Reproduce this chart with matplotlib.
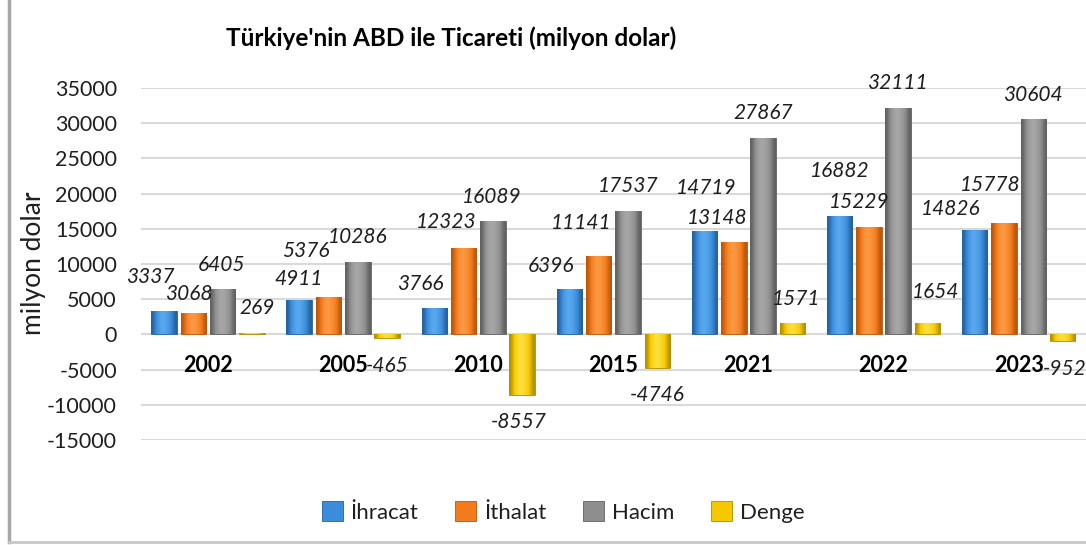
import numpy as np
import matplotlib.pyplot as plt
from matplotlib.lines import Line2D
from matplotlib.colors import LinearSegmentedColormap

years = ['2002', '2005', '2010', '2015', '2021', '2022', '2023']
ihracat = [3337, 4911, 3766, 6396, 14719, 16882, 14826]
ithalat = [3068, 5376, 12323, 11141, 13148, 15229, 15778]
hacim = [6405, 10286, 16089, 17537, 27867, 32111, 30604]
denge = [269, -465, -8557, -4746, 1571, 1654, -952]
series_names = ['İhracat', 'İthalat', 'Hacim', 'Denge']
yticks = list(range(-15000, 35001, 5000))

colors = ['#3b8ddb', '#f47b1d', '#8e8e8e', '#f6c800']
lights = ['#5aaaf0', '#fb9a45', '#a8a8a8', '#fde040']
edges = ['#25609c', '#b8560a', '#606060', '#b08e00']

# label offsets (pixels) from bar centre / bar end, hand-placed like the original
lab_dx = [[-14, -1, -14, -18, 2, 0, -24],
          [-5, -23, -17, -18, -17, -10, -14],
          [-1, 0, -1, 0, 0, -1, 0],
          [5, 0, -3, 0, 4, 8, 2]]
lab_dy = [[34, 21, 24, 23, 43, 45, 21],
          [19, 46, 26, 33, 24, 25, 38],
          [24, 25, 24, 25, 25, 25, 24],
          [25, -28, -27, -27, 24, 31, -28]]

plt.rcParams['font.family'] = ['Lato', 'DejaVu Sans']
txt = '#1f1f1f'
px = 0.72

fig = plt.figure(figsize=(10.86, 5.45), dpi=100)
ax = fig.add_axes([140.5 / 1086, 1 - 440 / 545, 945.7 / 1086, 352 / 545])

x = np.arange(len(years))
step = 0.2169
width = 0.189
data = [ihracat, ithalat, hacim, denge]
grad = np.array([[0.0, 0.45, 0.8, 1.0, 0.9, 0.7, 0.4, 0.0]])
for k, vals in enumerate(data):
    xs = x + (k - 1.5) * step
    cmap = LinearSegmentedColormap.from_list('b%d' % k, [edges[k], colors[k], lights[k]])
    bars = ax.bar(xs, vals, width, color=colors[k], edgecolor=edges[k], linewidth=0.6,
                  label=series_names[k], zorder=3)
    for b in bars:
        im = ax.imshow(grad, cmap=cmap, vmin=0, vmax=1, aspect='auto', interpolation='bicubic',
                       extent=[b.get_x(), b.get_x() + b.get_width(), b.get_y(), b.get_y() + b.get_height()],
                       zorder=3.5)
        im.set_clip_path(b)
    for i, v in enumerate(vals):
        ax.annotate(str(v), (xs[i], v),
                    xytext=(lab_dx[k][i] * px, lab_dy[k][i] * px),
                    textcoords='offset points', ha='center', va='center',
                    fontsize=15, style='italic', color=txt, zorder=5)

for i, yr in enumerate(years):
    ax.annotate(yr, (x[i], 0), xytext=(0, -31 * px), textcoords='offset points',
                ha='center', va='center', fontsize=15.5, fontweight='bold',
                color='black', zorder=4)

ax.set_xlim(-0.5, len(years) - 0.5)
ax.set_ylim(-15000, 35000)
ax.set_yticks(yticks)
ax.set_yticklabels([str(t) for t in yticks], fontsize=15.5, color=txt)
ax.tick_params(axis='y', length=0, pad=17)
ax.set_xticks([])
ax.grid(axis='y', color='#d9d9d9', linewidth=1.5, zorder=0)
for s in ax.spines.values():
    s.set_visible(False)

fig.text(33 / 1086, 1 - 263 / 545, 'milyon dolar', rotation=90, ha='center',
         va='center', fontsize=19, color=txt)
fig.text(451 / 1086, 1 - 38 / 545, "Türkiye'nin ABD ile Ticareti (milyon dolar)",
         ha='center', va='center', fontsize=17.5, fontweight='bold', color='black')

leg = fig.legend(loc='center', bbox_to_anchor=(563 / 1086, 1 - 512 / 545),
                 ncol=4, frameon=False, fontsize=16, handlelength=0.95,
                 handleheight=0.95, handletextpad=0.35, columnspacing=1.65)
for t in leg.get_texts():
    t.set_color(txt)

fig.add_artist(Line2D([9 / 1086, 9 / 1086], [1 - 542 / 545, 1], color='#a6a6a6', linewidth=2.5))
fig.add_artist(Line2D([9 / 1086, 1], [1 - 542 / 545, 1 - 542 / 545], color='#c8c8c8', linewidth=2))

fig.savefig('out.png', dpi=100)
